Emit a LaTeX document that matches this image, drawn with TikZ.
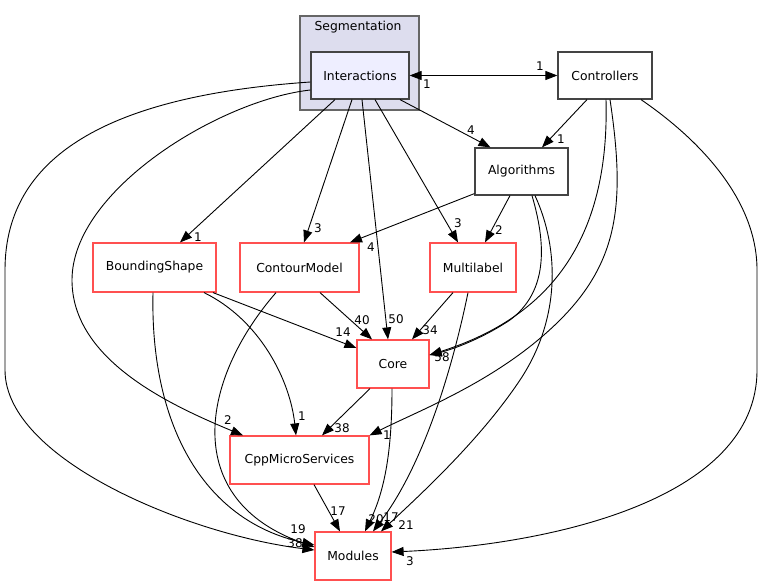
\documentclass[tikz,border=0pt]{standalone}
\usepackage{fontspec}
\setmainfont{DejaVu Sans}
\usetikzlibrary{arrows.meta,calc}
\definecolor{redb}{RGB}{255,80,80}
\definecolor{grayb}{RGB}{68,68,68}
\definecolor{clusterfill}{HTML}{DDDDEE}
\definecolor{clusterline}{HTML}{666666}
\definecolor{selfill}{HTML}{EEEEFF}
\begin{document}
\begin{tikzpicture}[x=1bp,y=-1bp,
  box/.style={draw=grayb,line width=1.2bp,fill=white,inner sep=0pt,minimum height=47bp,font=\fontsize{12.4}{14}\selectfont},
  redbox/.style={draw=redb,line width=1.2bp,fill=white,inner sep=0pt,minimum height=49bp,font=\fontsize{12.4}{14}\selectfont},
  dep/.style={line width=0.9bp,-{Triangle[length=12bp,width=9bp]}},
  lbl/.style={inner sep=0pt,font=\fontsize{12}{14}\selectfont}]
\useasboundingbox (0,0) rectangle (763,585);
\fill[white] (0,0) rectangle (763,585);
% cluster
\node[draw=clusterline,fill=clusterfill,line width=1.2bp,minimum width=119bp,minimum height=94bp,inner sep=0pt] (cluster) at (359.5,63) {};
\node[lbl,font=\fontsize{12.4}{14}\selectfont] (clusterlbl) at (358,27) {Segmentation};
% nodes
\node[box,fill=selfill,minimum width=98bp] (inter) at (360,75.5) {Interactions};
\node[box,minimum width=94bp] (ctrl) at (605,75.5) {Controllers};
\node[box,minimum width=93bp] (algo) at (521.5,171.5) {Algorithms};
\node[redbox,minimum width=123bp] (bshape) at (154.5,267.5) {BoundingShape};
\node[redbox,minimum width=119bp] (contour) at (299.5,267.5) {ContourModel};
\node[redbox,minimum width=86bp] (multi) at (473,267.5) {Multilabel};
\node[redbox,minimum width=72bp,minimum height=48bp] (core) at (393,364) {Core};
\node[redbox,minimum width=139bp,minimum height=48bp] (cpp) at (299.5,460) {CppMicroServices};
\node[redbox,minimum width=76bp,minimum height=48bp] (mods) at (353,556) {Modules};
% edges
\draw[line width=0.9bp,{Triangle[length=12bp,width=9bp]}-{Triangle[length=12bp,width=9bp]}] (inter.east) -- (ctrl.west);
\node[lbl] (l1) at (540,66) {1};
\node[lbl] (l2) at (427,84) {1};
\draw[dep] ([xshift=40bp]inter.south) -- ([xshift=-31bp]algo.north);
\node[lbl] (l3) at (471,130) {4};
\draw[dep] ([xshift=-18bp]ctrl.south) -- ([xshift=20.5bp]algo.north);
\node[lbl] (l4) at (561,139) {1};
\draw[dep] ([xshift=-25bp]inter.south) -- ([xshift=25.5bp]bshape.north);
\node[lbl] (l5) at (198,237) {1};
\draw[dep] ([xshift=-8bp]inter.south) -- ([xshift=4.5bp]contour.north);
\node[lbl] (l6) at (318,228) {3};
\draw[dep] ([xshift=2bp]inter.south) -- ([xshift=-5bp]core.north);
\node[lbl] (l7) at (396,319) {50};
\draw[dep] ([xshift=15bp]inter.south) -- ([xshift=-15bp]multi.north);
\node[lbl] (l8) at (458,223) {3};
% Interactions -> CppMicroServices
\draw[dep] ([yshift=-14.5bp]inter.west) .. controls (220,100) and (72,190) .. (72,280)
  .. controls (72,360) and (170,405) .. ([xshift=-56.5bp]cpp.north);
\node[lbl] (l9) at (228,420) {2};
% Interactions -> Modules
\draw[dep] ([yshift=-6.5bp]inter.west) .. controls (120,95) and (5,150) .. (5,270) -- (5,370)
  .. controls (5,460) and (190,535) .. ([yshift=6bp]mods.west);
% Controllers -> Core
\draw[dep] ([xshift=1bp]ctrl.south) .. controls (610,250) and (540,320) .. ([yshift=9bp]core.east);
% Controllers -> CppMicroServices
\draw[dep] ([xshift=5bp]ctrl.south) .. controls (625,200) and (620,260) .. (560,320)
  .. controls (500,380) and (420,410) .. (cpp.north east);
\node[lbl] (l10) at (387,435) {1};
% Controllers -> Modules
\draw[dep] ([xshift=36bp]ctrl.south) .. controls (700,140) and (757,200) .. (757,270) -- (757,370)
  .. controls (757,500) and (550,545) .. ([yshift=4bp]mods.east);
\node[lbl] (l11) at (410,561) {3};
% Algorithms -> ContourModel
\draw[dep] ([yshift=2bp]algo.south west) -- ([xshift=50.5bp]contour.north);
\node[lbl] (l12) at (371,247) {4};
% Algorithms -> Multilabel
\draw[dep] ([xshift=-11.5bp]algo.south) -- ([xshift=12bp]multi.north);
\node[lbl] (l13) at (499,230) {2};
% Algorithms -> Core
\draw[dep] ([xshift=10.5bp]algo.south) .. controls (545,240) and (550,290) .. (510,320)
  .. controls (480,340) and (450,350) .. ([yshift=9bp]core.east);
\node[lbl] (l14) at (442,357) {58};
% Algorithms -> Modules
\draw[dep] ([xshift=13.5bp]algo.south) .. controls (560,250) and (560,320) .. (520,380)
  .. controls (480,440) and (420,495) .. ([xshift=28bp]mods.north);
\node[lbl] (l15) at (406,525) {21};
% BoundingShape -> Core
\draw[dep] ([xshift=58.5bp]bshape.south) -- ([yshift=16bp]core.west);
\node[lbl] (l16) at (343,332) {14};
% BoundingShape -> CppMicroServices
\draw[dep] ([xshift=49.5bp]bshape.south) .. controls (260,320) and (290,380) .. ([xshift=-3.5bp]cpp.north);
\node[lbl] (l17) at (302,416) {1};
% BoundingShape -> Modules
\draw[dep] ([xshift=-1.5bp]bshape.south) .. controls (150,420) and (200,520) .. ([yshift=11bp]mods.west);
\node[lbl] (l18) at (298,529) {19};
% ContourModel -> Core
\draw[dep] ([xshift=20.5bp]contour.south) -- ([xshift=-21bp]core.north);
\node[lbl] (l19) at (362,320) {40};
% ContourModel -> Modules
\draw[dep] ([xshift=-23.5bp]contour.south) .. controls (200,380) and (180,500) .. ([yshift=9bp]mods.west);
\node[lbl] (l20) at (295,543) {38};
% Multilabel -> Core
\draw[dep] ([xshift=-20bp]multi.south) -- ([xshift=19bp]core.north);
\node[lbl] (l21) at (430,330) {34};
% Multilabel -> Modules
\draw[dep] ([xshift=-5bp]multi.south) .. controls (450,380) and (420,470) .. ([xshift=20bp]mods.north);
\node[lbl] (l22) at (391,517) {17};
% Core -> CppMicroServices
\draw[dep] ([xshift=-23bp]core.south) -- ([xshift=22.5bp]cpp.north);
\node[lbl] (l23) at (342,428) {38};
% Core -> Modules
\draw[dep] ([xshift=-1bp]core.south) .. controls (392,450) and (385,490) .. ([xshift=12bp]mods.north);
\node[lbl] (l24) at (376,519) {20};
% CppMicroServices -> Modules
\draw[dep] ([xshift=14.5bp]cpp.south) -- ([xshift=-13bp]mods.north);
\node[lbl] (l25) at (338,511) {17};
\end{tikzpicture}
\end{document}
